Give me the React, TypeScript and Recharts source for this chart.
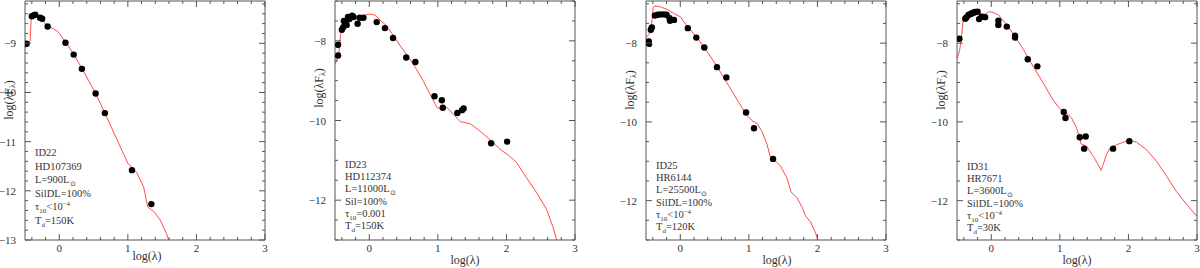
import React from 'react'
import { ComposedChart, Line, Scatter, XAxis, YAxis } from 'recharts'

// observed photometry, [log(lambda), log(lambda F_lambda)]
const id22Obs: [number, number][] = [
  [-0.477, -9.01], [-0.4, -8.45], [-0.37, -8.43], [-0.35, -8.42], [-0.28, -8.48], [-0.25, -8.5],
  [-0.17, -8.66], [0.09, -8.99], [0.21, -9.23], [0.33, -9.52], [0.53, -10.02], [0.665, -10.42],
  [1.06, -11.58], [1.343, -12.27],
]
const id23Obs: [number, number][] = [
  [-0.456, -8.1], [-0.456, -8.37], [-0.4, -7.72], [-0.38, -7.66], [-0.37, -7.5], [-0.35, -7.56],
  [-0.33, -7.6], [-0.31, -7.4], [-0.29, -7.45], [-0.25, -7.37], [-0.23, -7.4], [-0.17, -7.57],
  [-0.14, -7.42], [-0.085, -7.42], [0.108, -7.53], [0.228, -7.68], [0.347, -7.93], [0.539, -8.42],
  [0.672, -8.53], [0.951, -9.39], [1.058, -9.49], [1.072, -9.68], [1.284, -9.81], [1.352, -9.74],
  [1.376, -9.7], [1.777, -10.57], [2.01, -10.53],
]
const id25Obs: [number, number][] = [
  [-0.46, -7.96], [-0.455, -8.02], [-0.43, -7.66], [-0.415, -7.6], [-0.37, -7.3], [-0.33, -7.28],
  [-0.29, -7.27], [-0.24, -7.27], [-0.2, -7.28], [-0.156, -7.37], [-0.15, -7.43], [-0.092, -7.41],
  [0.11, -7.62], [0.234, -7.86], [0.35, -8.11], [0.535, -8.61], [0.672, -8.87], [0.959, -9.76],
  [1.075, -10.16], [1.353, -10.94],
]
const id31Obs: [number, number][] = [
  [-0.465, -7.89], [-0.38, -7.38], [-0.36, -7.34], [-0.33, -7.28], [-0.3, -7.26], [-0.28, -7.24],
  [-0.255, -7.22], [-0.236, -7.21], [-0.2, -7.2], [-0.178, -7.39], [-0.14, -7.33], [-0.09, -7.34],
  [0.103, -7.43], [0.103, -7.54], [0.226, -7.58], [0.347, -7.81], [0.347, -7.86], [0.532, -8.41],
  [0.672, -8.59], [1.057, -9.75], [1.082, -9.9], [1.29, -10.39], [1.377, -10.37], [1.354, -10.68],
  [1.776, -10.68], [2.013, -10.49],
]

// model SEDs
const id22Model: [number, number][] = [
  [-0.5, -9.1], [-0.477, -9.01], [-0.45, -8.99], [-0.425, -8.95], [-0.41, -8.5], [-0.395, -8.44],
  [-0.37, -8.41], [-0.32, -8.44], [-0.28, -8.49], [-0.17, -8.65], [-0.09, -8.7], [-0.02, -8.76],
  [0.0, -8.8], [0.1, -8.99], [0.21, -9.22], [0.33, -9.51], [0.53, -10.02], [0.665, -10.42],
  [1.0, -11.44], [1.06, -11.53], [1.13, -11.63], [1.23, -11.92], [1.29, -12.33], [1.38, -12.42],
  [1.47, -12.59], [1.56, -12.86], [1.62, -13.1],
]
const id23Model: [number, number][] = [
  [-0.5, -8.58], [-0.48, -8.52], [-0.445, -8.35], [-0.42, -7.85], [-0.4, -7.72], [-0.36, -7.58],
  [-0.32, -7.52], [-0.23, -7.45], [-0.11, -7.41], [-0.05, -7.35], [0.0, -7.33], [0.05, -7.34],
  [0.09, -7.36], [0.16, -7.48], [0.26, -7.64], [0.35, -7.87], [0.475, -8.18], [0.6, -8.47],
  [0.69, -8.72], [0.79, -9.02], [0.89, -9.35], [0.985, -9.67], [1.06, -9.73], [1.13, -9.67],
  [1.23, -9.85], [1.3, -9.98], [1.33, -10.03], [1.47, -10.08], [1.62, -10.27], [1.76, -10.48],
  [1.91, -10.73], [2.03, -10.87], [2.15, -11.06], [2.29, -11.43], [2.44, -11.81], [2.585, -12.23],
  [2.68, -12.68], [2.74, -13.05],
]
const id25Model: [number, number][] = [
  [-0.5, -7.86], [-0.46, -7.78], [-0.43, -7.68], [-0.41, -7.4], [-0.395, -7.1], [-0.38, -7.06],
  [-0.34, -7.06], [-0.29, -7.08], [-0.195, -7.14], [-0.1, -7.24], [0.0, -7.33], [0.1, -7.57],
  [0.24, -7.85], [0.39, -8.21], [0.535, -8.59], [0.68, -9.01], [0.83, -9.44], [0.975, -9.84],
  [1.05, -9.97], [1.12, -10.04], [1.19, -10.24], [1.265, -10.57], [1.31, -10.87], [1.36, -10.94],
  [1.46, -11.12], [1.555, -11.42], [1.615, -11.78], [1.7, -11.92], [1.78, -12.18], [1.825, -12.39],
  [1.9, -12.54], [1.97, -12.81], [2.01, -13.02],
]
const id31Model: [number, number][] = [
  [-0.5, -8.4], [-0.46, -8.17], [-0.43, -7.75], [-0.41, -7.43], [-0.36, -7.37], [-0.26, -7.29],
  [-0.16, -7.27], [-0.08, -7.26], [-0.04, -7.2], [0.03, -7.22], [0.103, -7.28], [0.22, -7.52],
  [0.345, -7.83], [0.47, -8.17], [0.61, -8.59], [0.76, -9.02], [0.9, -9.44], [1.01, -9.69],
  [1.1, -9.78], [1.17, -9.9], [1.245, -10.16], [1.28, -10.37], [1.31, -10.56], [1.39, -10.62],
  [1.49, -10.88], [1.56, -11.09], [1.6, -11.23], [1.63, -11.09], [1.68, -10.83], [1.73, -10.67],
  [1.83, -10.58], [1.92, -10.52], [2.02, -10.47], [2.12, -10.52], [2.265, -10.71], [2.41, -11.0],
  [2.56, -11.39], [2.7, -11.77], [2.85, -12.1], [3.0, -12.4],
]

// tick labels
const xTickLabels = [0, 1, 2, 3]
const yTickLabelsA = [-9, -10, -11, -12, -13]
const yTickLabelsB = [-8, -10, -12]

// annotations
const sourceIds = ['ID22', 'ID23', 'ID25', 'ID31']
const starNames = ['HD107369', 'HD112374', 'HR6144', 'HR7671']
const luminosities = ['900', '11000', '25500', '3600']
const dustTypes = ['SilDL', 'Sil', 'SilDL', 'SilDL']
const tau10Rel = ['<', '=', '<', '<']
const tau10Val = ['10', '0.001', '10', '10']
const tau10Exp = ['−4', '', '−4', '−4']
const dustTemps = ['150', '150', '120', '30']

const FONT = '"Liberation Serif", "Times New Roman", serif'
const FRAME = '#555'
const TEXT = '#333'
const RED = '#ff4a4a'

const near = (a: number, b: number) => Math.abs(a - b) < 1e-6
const fmt = (v: number) => (v < 0 ? `−${Math.abs(v)}` : `${v}`)

function range(from: number, to: number, step: number) {
  const out: number[] = []
  for (let v = from; v <= to + 1e-9; v += step) out.push(Math.round(v * 100) / 100)
  return out
}

const xTicks = range(-0.4, 3, 0.2)

type Side = 'left' | 'right' | 'top' | 'bottom'

const makeTick = (side: Side, isMajor: (v: number) => boolean, labels: number[]) => (props: any) => {
  const { x, y, payload } = props
  const v = payload.value as number
  const len = isMajor(v) ? 6 : 3
  const show = labels.some((l) => near(l, v))
  let ln: [number, number, number, number]
  if (side === 'left') ln = [x, y, x + len, y]
  else if (side === 'right') ln = [x, y, x - len, y]
  else if (side === 'bottom') ln = [x, y, x, y - len]
  else ln = [x, y, x, y + len]
  return (
    <g>
      <line x1={ln[0]} y1={ln[1]} x2={ln[2]} y2={ln[3]} stroke={FRAME} strokeWidth={1} />
      {show && side === 'left' && (
        <text x={x - 9} y={y + 4} textAnchor="end" fontSize={11} fontFamily={FONT} fill={TEXT}>
          {fmt(v)}
        </text>
      )}
      {show && side === 'bottom' && (
        <text x={x} y={y + 12} textAnchor="middle" fontSize={11} fontFamily={FONT} fill={TEXT}>
          {fmt(v)}
        </text>
      )}
    </g>
  )
}

type Panel = {
  obs: [number, number][]
  model: [number, number][]
  left: number
  yDomain: [number, number]
  yTicks: number[]
  yLabels: number[]
  yMajor: (v: number) => boolean
  textTop: number
  textStep: number
  yTitleY: number
  xTitleX: number
  xTitleY: number
}

const evenMajor = (v: number) => near(v, Math.round(v)) && Math.round(v) % 2 === 0

const panels: Panel[] = [
  {
    obs: id22Obs, model: id22Model, left: 25, yDomain: [-13, -8.14],
    yTicks: range(-13, -8.2, 0.2), yLabels: yTickLabelsA, yMajor: (v) => near(v, Math.round(v)),
    textTop: 152, textStep: 13.5, yTitleY: 100, xTitleX: 147, xTitleY: 260,
  },
  {
    obs: id23Obs, model: id23Model, left: 335, yDomain: [-13, -7.0],
    yTicks: range(-13, -7, 0.5), yLabels: yTickLabelsB, yMajor: evenMajor,
    textTop: 164, textStep: 12.2, yTitleY: 88, xTitleX: 465, xTitleY: 264,
  },
  {
    obs: id25Obs, model: id25Model, left: 646, yDomain: [-13, -6.93],
    yTicks: range(-13, -7, 0.5), yLabels: yTickLabelsB, yMajor: evenMajor,
    textTop: 165, textStep: 12.2, yTitleY: 90, xTitleX: 777, xTitleY: 264,
  },
  {
    obs: id31Obs, model: id31Model, left: 957, yDomain: [-13, -6.93],
    yTicks: range(-13, -7, 0.5), yLabels: yTickLabelsB, yMajor: evenMajor,
    textTop: 166, textStep: 12.2, yTitleY: 90, xTitleX: 1077, xTitleY: 264,
  },
]

const PW = 240
const PAD = 30
const xMajor = (v: number) => near(v, Math.round(v))

const Dot = (props: any) => <circle cx={props.cx} cy={props.cy} r={3.2} fill="#000" />

function SedPanel({ p }: { p: Panel }) {
  const obs = p.obs.map(([x, y]) => ({ x, y }))
  const model = p.model.map(([x, y]) => ({ x, y }))
  return (
    <div style={{ position: 'absolute', left: p.left - PAD, top: 0 }}>
      <ComposedChart width={PW + 2 * PAD} height={268} margin={{ top: 0, right: PAD - 1, bottom: 27, left: PAD - 1 }}>
        <XAxis xAxisId="b" dataKey="x" type="number" domain={[-0.5, 3]} allowDataOverflow
          orientation="bottom" height={1} ticks={xTicks} interval={0} tickSize={0} tickMargin={0}
          tickLine={false} axisLine={{ stroke: FRAME }} tick={makeTick('bottom', xMajor, xTickLabels)} />
        <XAxis xAxisId="t" dataKey="x" type="number" domain={[-0.5, 3]} allowDataOverflow
          orientation="top" height={1} ticks={xTicks} interval={0} tickSize={0} tickMargin={0}
          tickLine={false} axisLine={{ stroke: FRAME }} tick={makeTick('top', xMajor, [])} />
        <YAxis yAxisId="l" dataKey="y" type="number" domain={p.yDomain} allowDataOverflow
          orientation="left" width={1} ticks={p.yTicks} interval={0} tickSize={0} tickMargin={0}
          tickLine={false} axisLine={{ stroke: FRAME }} tick={makeTick('left', p.yMajor, p.yLabels)} />
        <YAxis yAxisId="r" dataKey="y" type="number" domain={p.yDomain} allowDataOverflow
          orientation="right" width={1} ticks={p.yTicks} interval={0} tickSize={0} tickMargin={0}
          tickLine={false} axisLine={{ stroke: FRAME }} tick={makeTick('right', p.yMajor, [])} />
        <Scatter xAxisId="b" yAxisId="l" data={obs} dataKey="y" shape={Dot} isAnimationActive={false} />
        <Line xAxisId="b" yAxisId="l" data={model} dataKey="y" type="linear" stroke={RED}
          strokeWidth={1} dot={false} activeDot={false} isAnimationActive={false} />
      </ComposedChart>
    </div>
  )
}

function Labels() {
  return (
    <svg width={1200} height={268} style={{ position: 'absolute', left: 0, top: 0, pointerEvents: 'none' }}
      fontFamily={FONT} fill={TEXT}>
      {panels.map((p, i) => {
        const tx = p.left + 10
        const ty = (k: number) => p.textTop + 4 + k * p.textStep
        const yx = p.left - 16
        return (
          <g key={i}>
            <text x={p.xTitleX} y={p.xTitleY} textAnchor="middle" fontSize={12}>log(λ)</text>
            <text x={yx} y={p.yTitleY} textAnchor="middle" dominantBaseline="central" fontSize={12}
              transform={`rotate(-90 ${yx} ${p.yTitleY})`}>
              log(λF<tspan fontSize={8} dy={3}>λ</tspan><tspan dy={-3}>)</tspan>
            </text>
            <g fontSize={10.5}>
              <text x={tx} y={ty(0)}>{sourceIds[i]}</text>
              <text x={tx} y={ty(1)}>{starNames[i]}</text>
              <text x={tx} y={ty(2)}>
                L={luminosities[i]}L<tspan fontSize={7} dy={3}>⊙</tspan>
              </text>
              <text x={tx} y={ty(3)}>{dustTypes[i]}=100%</text>
              <text x={tx} y={ty(4)}>
                τ<tspan fontSize={7} dy={3}>10</tspan>
                <tspan dy={-3}>{tau10Rel[i]}{tau10Val[i]}</tspan>
                {tau10Exp[i] && <tspan fontSize={7} dy={-4}>{tau10Exp[i]}</tspan>}
              </text>
              <text x={tx} y={ty(5)}>
                T<tspan fontSize={7} dy={3}>d</tspan><tspan dy={-3}>={dustTemps[i]}K</tspan>
              </text>
            </g>
          </g>
        )
      })}
    </svg>
  )
}

export default function App() {
  return (
    <div style={{ position: 'absolute', left: 0, top: 0, width: 1200, height: 268, background: '#fff' }}>
      {panels.map((p, i) => (
        <SedPanel key={i} p={p} />
      ))}
      <Labels />
    </div>
  )
}
